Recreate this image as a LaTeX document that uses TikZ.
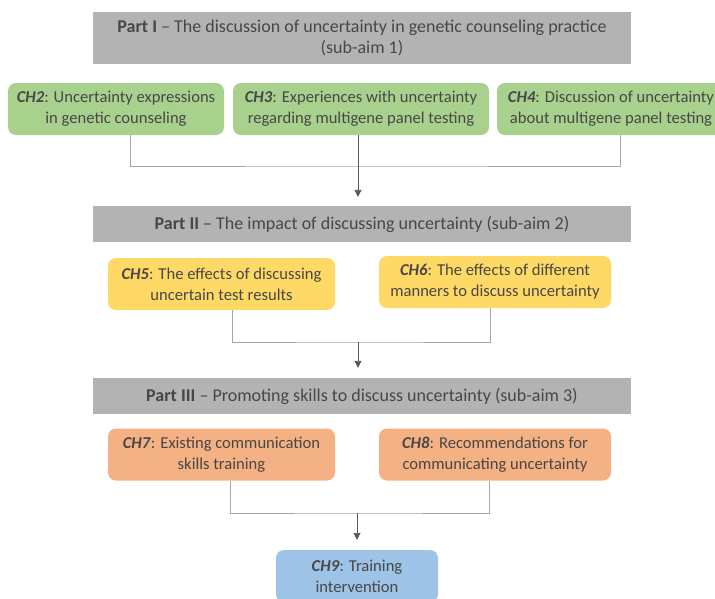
\documentclass[tikz,border=0pt]{standalone}
\usepackage{fontspec}
\setmainfont{Carlito}
\usetikzlibrary{arrows.meta}
\definecolor{txt}{HTML}{474747}
\definecolor{partgray}{HTML}{B3B3B3}
\definecolor{grn}{HTML}{A9D18E}
\definecolor{ylw}{HTML}{FFD966}
\definecolor{org}{HTML}{F4B183}
\definecolor{blu}{HTML}{9DC3E6}
\definecolor{lin}{HTML}{A6A6A6}
\definecolor{arr}{HTML}{595959}
\tikzset{
  partbox/.style={fill=partgray, draw=none, minimum width=538pt, align=center, inner sep=0pt, text=txt, font=\fontsize{18}{21}\selectfont},
  chbox/.style={fill=#1, draw=none, rounded corners=8pt, align=center, inner sep=0pt, minimum height=52pt, text=txt, font=\fontsize{16.6}{21}\selectfont},
  conn/.style={draw=lin, line width=0.8pt},
  arrowline/.style={draw=arr, line width=0.9pt, -{Triangle[width=7pt,length=7pt]}}
}
\newcommand{\chl}[1]{\textbf{\textit{#1}}}
\begin{document}
\begin{tikzpicture}[x=1pt,y=-1pt]
\clip (0,0) rectangle (715,598);
\fill[white] (0,0) rectangle (715,598);
% Part I
\node[partbox, minimum height=52pt] (p1) at (362,38) {\textbf{Part I} -- The discussion of uncertainty in genetic counseling practice\\(sub-aim 1)};
\node[chbox=grn, minimum width=216pt] (ch2) at (116,109) {\chl{CH2}: Uncertainty expressions\\in genetic counseling};
\node[chbox=grn, minimum width=256pt] (ch3) at (361,109) {\chl{CH3}: Experiences with uncertainty\\regarding multigene panel testing};
\node[chbox=grn, minimum width=228pt] (ch4) at (611,109) {\chl{CH4}: Discussion of uncertainty\\about multigene panel testing};
% Part II
\node[partbox, minimum height=36pt] (p2) at (362,224) {\textbf{Part II} -- The impact of discussing uncertainty (sub-aim 2)};
\node[chbox=ylw, minimum width=227pt] (ch5) at (221.5,284) {\chl{CH5}: The effects of discussing\\uncertain test results};
\node[chbox=ylw, minimum width=232pt] (ch6) at (495,282) {\chl{CH6}: The effects of different\\manners to discuss uncertainty};
% Part III
\node[partbox, minimum height=36pt] (p3) at (362,396) {\textbf{Part III} -- Promoting skills to discuss uncertainty (sub-aim 3)};
\node[chbox=org, minimum width=227pt] (ch7) at (221.5,454.5) {\chl{CH7}: Existing communication\\skills training};
\node[chbox=org, minimum width=232pt] (ch8) at (495,454.5) {\chl{CH8}: Recommendations for\\communicating uncertainty};
\node[chbox=blu, minimum width=162pt] (ch9) at (357,576) {\chl{CH9}: Training\\intervention};
% connectors I
\coordinate (j1) at (358,166);
\draw[conn] ([xshift=14pt]ch2.south) |- (j1) -| ([xshift=9pt]ch4.south);
\draw[arrowline, shorten >=9pt] ([xshift=-3pt]ch3.south) -- ([xshift=-4pt]p2.north);
% connectors II
\coordinate (j2) at (358,342);
\draw[conn] ([xshift=10.5pt]ch5.south) |- (j2) -| ([xshift=-5pt]ch6.south);
\draw[arrowline, shorten >=10pt] (j2) -- ([xshift=-4pt]p3.north);
% connectors III
\coordinate (j3) at (357,513);
\draw[conn] ([xshift=8.5pt]ch7.south) |- (j3) -| ([xshift=-6pt]ch8.south);
\draw[arrowline, shorten >=10pt] (j3) -- (ch9.north);
\end{tikzpicture}
\end{document}
